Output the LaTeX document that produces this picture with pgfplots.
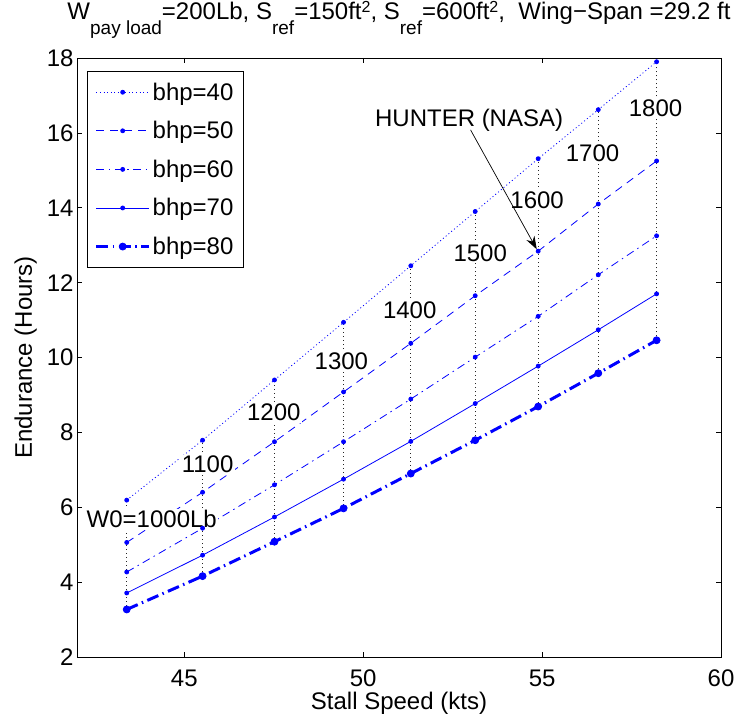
\documentclass[border=0pt]{standalone}
\usepackage{fontspec}
\setmainfont{Liberation Sans}
\usepackage{pgfplots}
\usepackage{pgfplotstable}
\pgfplotsset{compat=1.18}
\usetikzlibrary{arrows.meta}

% sub- and superscripts for the title line
\newcommand{\lo}[1]{\raisebox{-15bp}{\fontsize{19bp}{19bp}\selectfont #1}}
\newcommand{\hi}[1]{\raisebox{7bp}{\fontsize{16bp}{16bp}\selectfont #1}}
\newcommand{\chartfont}{\fontsize{24bp}{28bp}\selectfont}
\tikzset{lab/.style={anchor=base, fill=white, inner sep=1.5bp, font=\chartfont}}

% stall speed (kts) and endurance (hours), W0 = 1000 ... 1800 Lb
\pgfplotstableread{
v e
43.39 6.19
45.51 7.79
47.52 9.40
49.45 10.94
51.33 12.45
53.13 13.90
54.89 15.31
56.57 16.62
58.20 17.90
}\bhpforty
\pgfplotstableread{
v e
43.39 5.06
45.51 6.40
47.52 7.75
49.45 9.08
51.33 10.38
53.13 11.65
54.89 12.84
56.57 14.10
58.20 15.25
}\bhpfifty
\pgfplotstableread{
v e
43.39 4.27
45.51 5.44
47.52 6.60
49.45 7.75
51.33 8.89
53.13 10.01
54.89 11.10
56.57 12.21
58.20 13.25
}\bhpsixty
\pgfplotstableread{
v e
43.39 3.71
45.51 4.72
47.52 5.74
49.45 6.75
51.33 7.76
53.13 8.77
54.89 9.77
56.57 10.74
58.20 11.70
}\bhpseventy
\pgfplotstableread{
v e
43.39 3.27
45.51 4.16
47.52 5.08
49.45 5.97
51.33 6.90
53.13 7.79
54.89 8.69
56.57 9.58
58.20 10.46
}\bhpeighty

\begin{document}
\begin{tikzpicture}
\path[use as bounding box] (0,0) rectangle (737bp,724bp);
\begin{axis}[
  at={(77bp,67bp)}, anchor=south west,
  scale only axis, width=644bp, height=599bp,
  xmin=42, xmax=60, ymin=2, ymax=18,
  xtick={45,50,55,60}, ytick={2,4,...,18},
  tick align=inside, major tick length=5bp,
  every tick/.style={black, line width=0.6bp},
  axis line style={black, line width=0.8bp},
  /pgf/number format/assume math mode=true,
  ticklabel style={font=\chartfont},
  xticklabel style={anchor=base, yshift=-29bp},
  xlabel={Stall Speed (kts)},
  xlabel style={at={(axis description cs:0.5,0)}, anchor=base, yshift=-52bp, font=\chartfont},
  ylabel={Endurance (Hours)},
  ylabel style={at={(axis description cs:-0.0699,0.5)}, anchor=base, font=\chartfont},
  title={W\lo{pay load}=200Lb, S\lo{ref}=150ft\hi{2}, S\lo{ref}=600ft\hi{2},\ \ Wing−Span =29.2 ft},
  title style={at={(axis description cs:0.5,1)}, anchor=base, yshift=33bp, font=\chartfont},
  legend style={at={(axis description cs:0.0155,0.978)}, anchor=north west,
    draw=black, line width=0.8bp, font=\chartfont,
    inner xsep=7.5bp, inner ysep=9bp, row sep=15.3bp,
    nodes={inner sep=2.2bp}},
  legend cell align=left,
  legend image code/.code={\draw[mark repeat=2,mark phase=2]
    plot coordinates {(0bp,0bp)(26.3bp,0bp)(52.6bp,0bp)};},
]
% constant-weight connectors
\addplot[forget plot, black!85, line width=0.8bp, dash pattern=on 0.8bp off 3.2bp] coordinates {(43.39,3.27) (43.39,6.19)};
\addplot[forget plot, black!85, line width=0.8bp, dash pattern=on 0.8bp off 3.2bp] coordinates {(45.51,4.16) (45.51,7.79)};
\addplot[forget plot, black!85, line width=0.8bp, dash pattern=on 0.8bp off 3.2bp] coordinates {(47.52,5.08) (47.52,9.40)};
\addplot[forget plot, black!85, line width=0.8bp, dash pattern=on 0.8bp off 3.2bp] coordinates {(49.45,5.97) (49.45,10.94)};
\addplot[forget plot, black!85, line width=0.8bp, dash pattern=on 0.8bp off 3.2bp] coordinates {(51.33,6.90) (51.33,12.45)};
\addplot[forget plot, black!85, line width=0.8bp, dash pattern=on 0.8bp off 3.2bp] coordinates {(53.13,7.79) (53.13,13.90)};
\addplot[forget plot, black!85, line width=0.8bp, dash pattern=on 0.8bp off 3.2bp] coordinates {(54.89,8.69) (54.89,15.31)};
\addplot[forget plot, black!85, line width=0.8bp, dash pattern=on 0.8bp off 3.2bp] coordinates {(56.57,9.58) (56.57,16.62)};
\addplot[forget plot, black!85, line width=0.8bp, dash pattern=on 0.8bp off 3.2bp] coordinates {(58.20,10.46) (58.20,17.90)};

\addplot[blue, line width=0.8bp, dash pattern=on 1bp off 2.6bp,
  mark=*, mark size=2bp, mark options={solid, fill=blue}] table {\bhpforty};
\addlegendentry{bhp=40}
\addplot[blue, line width=0.8bp, dash pattern=on 8bp off 6bp,
  mark=*, mark size=2bp, mark options={solid, fill=blue}] table {\bhpfifty};
\addlegendentry{bhp=50}
\addplot[blue, line width=0.8bp, dash pattern=on 8bp off 4.5bp on 1.5bp off 4.5bp,
  mark=*, mark size=2bp, mark options={solid, fill=blue}] table {\bhpsixty};
\addlegendentry{bhp=60}
\addplot[blue, line width=0.8bp, solid,
  mark=*, mark size=2bp, mark options={solid, fill=blue}] table {\bhpseventy};
\addlegendentry{bhp=70}
\addplot[blue, line width=3bp, dash pattern=on 12bp off 4.5bp on 1.5bp off 4.5bp,
  mark=*, mark size=3.5bp, mark options={solid, fill=blue, line width=0.8bp}] table {\bhpeighty};
\addlegendentry{bhp=80}

% take-off weight of each column
\node[lab] at (axis cs:44.09,5.45) {W0=1000Lb};
\node[lab] at (axis cs:45.65,6.92) {1100};
\node[lab] at (axis cs:47.50,8.31) {1200};
\node[lab] at (axis cs:49.39,9.69) {1300};
\node[lab] at (axis cs:51.30,11.05) {1400};
\node[lab] at (axis cs:53.27,12.56) {1500};
\node[lab] at (axis cs:54.86,13.98) {1600};
\node[lab] at (axis cs:56.41,15.23) {1700};
\node[lab] at (axis cs:58.17,16.45) {1800};
\node[lab, fill=none] at (axis cs:52.96,16.18) {HUNTER (NASA)};
\draw[-{Stealth[length=13bp,width=9bp]}, line width=0.7bp, black]
  (axis cs:53.00,16.08) -- (axis cs:54.85,12.89);
\end{axis}
\end{tikzpicture}
\end{document}
